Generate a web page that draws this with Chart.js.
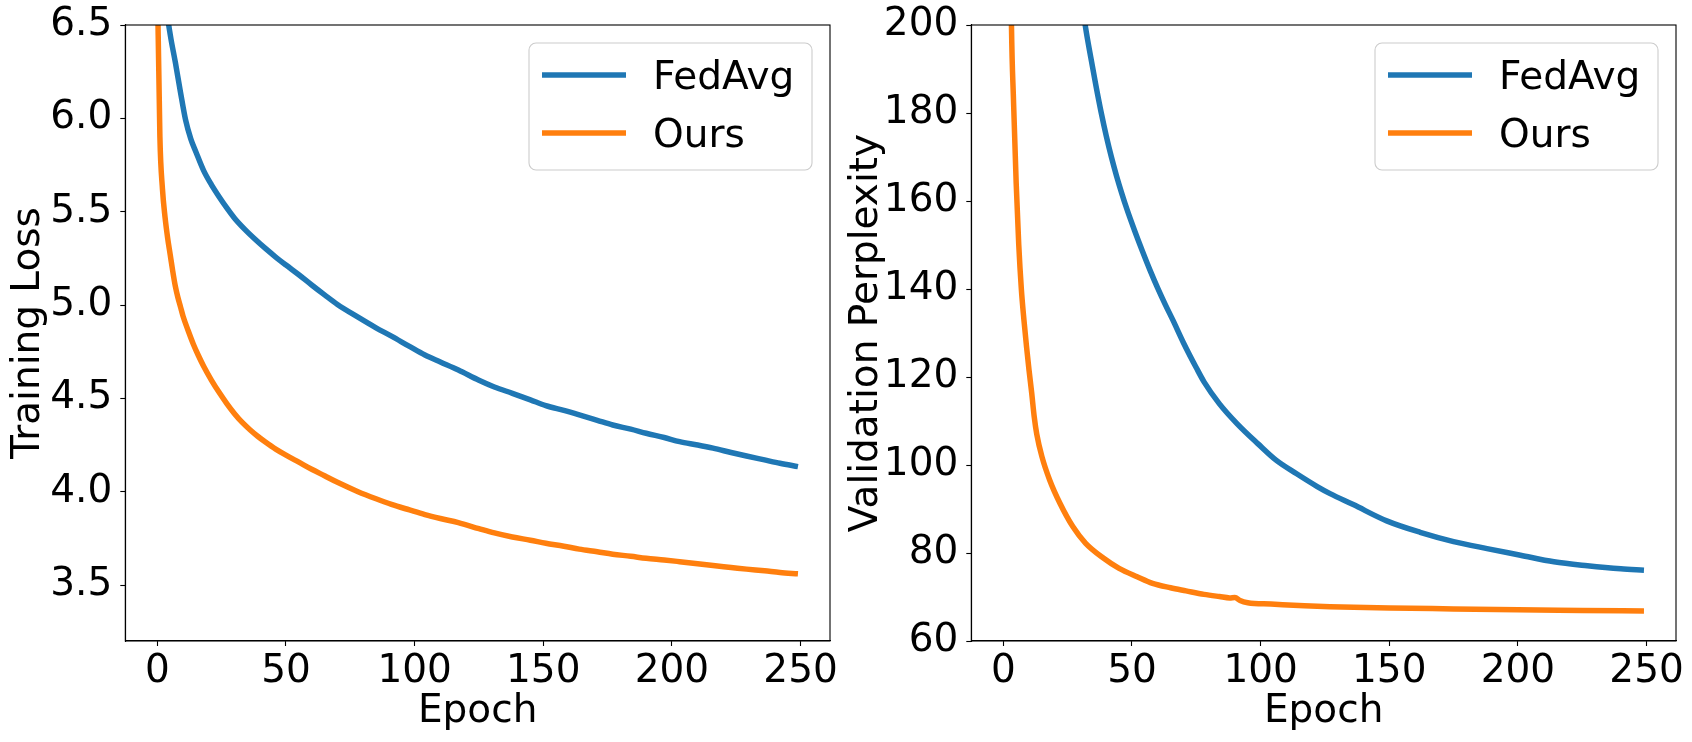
<!DOCTYPE html>
<html><head><meta charset="utf-8">
<script src="https://cdn.jsdelivr.net/npm/chart.js@4.4.1/dist/chart.umd.min.js"></script>
<style>
html,body{margin:0;padding:0;background:#fff;}
#wrap{position:relative;width:1692px;height:742px;overflow:hidden;}
.panel{position:absolute;top:0;height:742px;}
</style></head><body>
<div id="wrap">
<div class="panel" style="left:0;width:846px"><canvas id="c1" width="846" height="742"></canvas></div>
<div class="panel" style="left:836px;width:856px"><canvas id="c2" width="856" height="742"></canvas></div>
</div>
<script>
// ---------- data ----------
const seriesLabels = ['FedAvg', 'Ours'];
const xTitle = 'Epoch';
const lossTitle = 'Training Loss';
const pplTitle = 'Validation Perplexity';
const epochTicks = [0, 50, 100, 150, 200, 250];
const lossTicks = [3.5, 4.0, 4.5, 5.0, 5.5, 6.0, 6.5];
const pplTicks = [60, 80, 100, 120, 140, 160, 180, 200];

const lossFedAvgEpochs = [0,2,4,5,7,9,11,13,15,18,21,24,27,30,34,38,42,46,50,55,60,65,70,78,85,91,98,104,110,117,125,131,138,145,151,158,164,171,177,184,190,197,203,210,216,223,229,236,242,249];
const lossFedAvg = [7.6,6.95,6.55,6.45,6.30,6.14,5.99,5.89,5.82,5.72,5.645,5.58,5.52,5.465,5.405,5.352,5.303,5.257,5.214,5.162,5.107,5.054,5.003,4.935,4.878,4.833,4.778,4.732,4.695,4.652,4.597,4.561,4.527,4.492,4.461,4.435,4.411,4.382,4.357,4.335,4.313,4.29,4.268,4.25,4.233,4.21,4.191,4.17,4.152,4.134];

const lossOursEpochs = [0,1,2,3,4,5,6,7,8,9,10,12,14,16,18,21,24,27,30,33,36,39,42,46,50,55,60,65,70,78,85,91,98,104,110,117,125,131,138,145,151,158,164,171,177,184,190,197,203,210,216,223,229,236,242,249];
const lossOurs = [6.75,5.9,5.62,5.47,5.36,5.27,5.18,5.10,5.04,4.99,4.94,4.862,4.79,4.728,4.672,4.598,4.532,4.472,4.418,4.371,4.332,4.297,4.266,4.228,4.196,4.158,4.12,4.085,4.05,4.0,3.962,3.932,3.902,3.877,3.856,3.834,3.802,3.779,3.757,3.74,3.724,3.708,3.692,3.678,3.665,3.654,3.643,3.634,3.625,3.614,3.604,3.594,3.585,3.576,3.567,3.56];

const pplFedAvgEpochs = [0,10,20,25,28,30,32,34,36,38,40,42,44,46,48,51,54,57,60,63,66,70,75,78,84,91,99,106,114,122,127,136,149,162,175,188,201,214,227,240,249];
const pplFedAvg = [520,370,265,232,216,207.5,199.3,192.6,186.2,180.2,174.8,170.0,165.7,161.8,158.2,153.3,148.7,144.3,140.2,136.4,132.8,127.8,122.1,118.9,113.9,109.3,104.8,101.1,98.0,95.1,93.5,91.0,87.3,84.7,82.6,81.0,79.5,78.0,77.1,76.4,76.1];

const pplOursEpochs = [0,1,2,3,4,5,6,7,8,9,10,11,12,13,15,18,22,27,32,39,45,52,58,65,71,78,84,88,90,92,95,104,117,127,150,175,200,225,249];
const pplOurs = [620,420,290,207,182,164,150,140,133,127,121.5,116.5,111,107,101.9,96.6,91.3,86.0,82.2,78.8,76.5,74.6,73.1,72.1,71.4,70.6,70.1,69.8,69.9,69.2,68.7,68.4,68.0,67.8,67.5,67.3,67.1,66.95,66.8];

// ---------- helpers ----------
const pts = (xs, ys) => xs.map((x, i) => ({x: x, y: ys[i]}));
const COLORS = ['#1f77b4', '#ff7f0e'];
const FONT = 'DejaVu Sans';

const framePlugin = {
  id: 'frameAndLegend',
  afterDatasetsDraw(chart) {
    const ctx = chart.ctx, ca = chart.chartArea;
    ctx.save();
    ctx.strokeStyle = '#000';
    ctx.lineWidth = 1.1;
    ctx.strokeRect(ca.left, ca.top, ca.right - ca.left, ca.bottom - ca.top);
    // legend (upper right, inside axes)
    const w = 283, h = 127;
    const left = ca.right - 18 - w, top = ca.top + 18;
    const r = 7;
    ctx.beginPath();
    ctx.moveTo(left + r, top);
    ctx.arcTo(left + w, top, left + w, top + h, r);
    ctx.arcTo(left + w, top + h, left, top + h, r);
    ctx.arcTo(left, top + h, left, top, r);
    ctx.arcTo(left, top, left + w, top, r);
    ctx.closePath();
    ctx.fillStyle = 'rgba(255,255,255,0.8)';
    ctx.fill();
    ctx.strokeStyle = '#cccccc';
    ctx.lineWidth = 1.1;
    ctx.stroke();
    const fs = 39;
    ctx.font = fs + 'px "' + FONT + '"';
    ctx.textAlign = 'left';
    ctx.textBaseline = 'alphabetic';
    chart.data.datasets.forEach((ds, i) => {
      const rowY = top + 32 + i * 58;
      ctx.beginPath();
      ctx.strokeStyle = ds.borderColor;
      ctx.lineWidth = 5.5;
      ctx.lineCap = 'butt';
      ctx.moveTo(left + 13, rowY);
      ctx.lineTo(left + 97, rowY);
      ctx.stroke();
      ctx.fillStyle = '#000';
      ctx.fillText(ds.label, left + 124, rowY + 0.365 * fs);
    });
    ctx.restore();
  }
};

function makeChart(canvasId, yTitle, yMin, yMax, yTicks, yFmt, fed, ours, yAxisWidth, yTitlePad) {
  return new Chart(document.getElementById(canvasId), {
    type: 'line',
    data: {
      datasets: [
        {label: seriesLabels[0], data: fed, borderColor: COLORS[0]},
        {label: seriesLabels[1], data: ours, borderColor: COLORS[1]}
      ].map(d => Object.assign(d, {
        borderWidth: 5.5, pointRadius: 0, pointHoverRadius: 0, fill: false,
        cubicInterpolationMode: 'monotone', clip: 0, borderCapStyle: 'butt'
      }))
    },
    options: {
      responsive: false,
      animation: false,
      events: [],
      layout: {padding: {top: 25, right: 16, left: 0, bottom: 0}},
      plugins: {legend: {display: false}, tooltip: {enabled: false}},
      scales: {
        x: {
          type: 'linear', min: -12.45, max: 261.45,
          afterBuildTicks: ax => { ax.ticks = epochTicks.map(v => ({value: v})); },
          afterFit: ax => { ax.height = 101; ax.paddingLeft = 0; ax.paddingRight = 0; },
          ticks: {autoSkip: false, maxRotation: 0, padding: 2, color: '#000',
                  font: {family: FONT, size: 39}, callback: v => String(v)},
          grid: {drawOnChartArea: false, drawTicks: true, tickLength: 5, tickWidth: 1.1, tickColor: '#000'},
          border: {display: true, color: '#000', width: 1.1},
          title: {display: true, text: xTitle, color: '#000', font: {family: FONT, size: 39},
                  padding: {top: 0, bottom: 7}}
        },
        y: {
          type: 'linear', min: yMin, max: yMax,
          afterBuildTicks: ax => { ax.ticks = yTicks.map(v => ({value: v})); },
          afterFit: ax => { ax.width = yAxisWidth; ax.paddingTop = 0; ax.paddingBottom = 0; },
          ticks: {autoSkip: false, padding: 8, color: '#000',
                  font: {family: FONT, size: 39}, callback: yFmt},
          grid: {drawOnChartArea: false, drawTicks: true, tickLength: 5, tickWidth: 1.1, tickColor: '#000'},
          border: {display: true, color: '#000', width: 1.1},
          title: {display: true, text: yTitle, color: '#000', font: {family: FONT, size: 39},
                  padding: {top: yTitlePad, bottom: 0}}
        }
      }
    },
    plugins: [framePlugin]
  });
}

makeChart('c1', lossTitle, 3.2, 6.5, lossTicks, v => Number(v).toFixed(1),
  pts(lossFedAvgEpochs, lossFedAvg), pts(lossOursEpochs, lossOurs), 125.3, 5);
makeChart('c2', pplTitle, 60, 200, pplTicks, v => String(v),
  pts(pplFedAvgEpochs, pplFedAvg), pts(pplOursEpochs, pplOurs), 135.3, 7);
</script>
</body></html>
